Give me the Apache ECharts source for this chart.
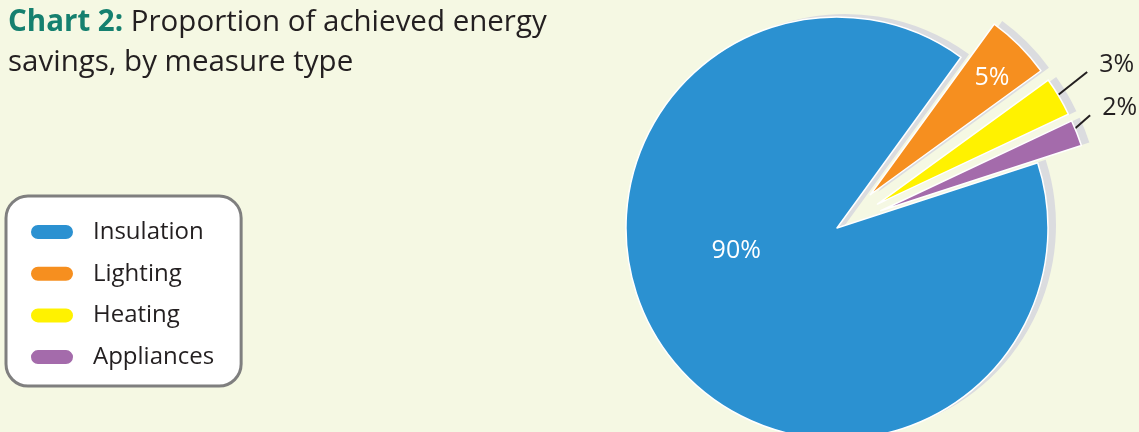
<!DOCTYPE html>
<html><head><meta charset="utf-8">
<script src="https://cdn.jsdelivr.net/npm/echarts@6/dist/echarts.min.js"></script>
<style>html,body{margin:0;padding:0;background:#f5f8e3;}#c{width:1139px;height:432px;}</style>
</head><body><div id="c"></div>
<script>
// ---- data ----
const categories = ['Insulation', 'Lighting', 'Heating', 'Appliances'];
const values = [90, 5, 3, 2];
const titleBold = 'Chart 2:';
const titleLine1 = 'Proportion of achieved energy';
const titleLine2 = 'savings, by measure type';

// ---- styling ----
const colors = ['#2b91d1', '#f68f1f', '#fff200', '#a46bab'];
const shadowColor = '#dbdcdf';
const FONT = 'Open Sans';
const exploded = [false, true, true, true];
const insideLabel = [true, true, false, false];
const lineLen = [0, 0, 28, 25];
const labelShift = [[-13, -41], [45, -40], [11, -18], [-3, -16]];

const chart = echarts.init(document.getElementById('c'), null, { renderer: 'canvas' });

const mainData = categories.map((name, i) => {
  const item = {
    name: name,
    value: values[i],
    selected: exploded[i],
    itemStyle: { color: colors[i] }
  };
  if (insideLabel[i]) {
    item.label = { position: 'inside', color: '#ffffff' };
    item.labelLine = { show: false };
  } else {
    item.label = { position: 'outside', color: '#231f20', distanceToLabelLine: 5 };
    item.labelLine = { show: true, showAbove: true, length: lineLen[i], length2: 0 };
  }
  return item;
});
const shadowData = categories.map((name, i) => ({
  name: name, value: values[i], selected: exploded[i]
}));

const pieCommon = {
  type: 'pie',
  radius: 211,
  startAngle: 18,
  clockwise: true,
  selectedMode: 'multiple',
  selectedOffset: 47,
  avoidLabelOverlap: false,
  animation: false
};

chart.setOption({
  backgroundColor: '#f5f8e3',
  animation: false,
  title: {
    left: 8, top: 3, padding: 0,
    text: '{b|' + titleBold + '} ' + titleLine1 + '\n' + titleLine2,
    textStyle: {
      fontFamily: FONT, fontSize: 29.5, fontWeight: 'normal', color: '#231f20', lineHeight: 40,
      rich: {
        b: { fontFamily: FONT, fontSize: 29.5, fontWeight: 'bold', color: '#15806f', lineHeight: 40 }
      }
    }
  },
  legend: {
    orient: 'vertical',
    left: 6, top: 196,
    data: categories,
    selectedMode: false,
    backgroundColor: '#ffffff',
    borderColor: '#7f7f7f',
    borderWidth: 3,
    borderRadius: 22,
    padding: [24, 27, 17, 23],
    itemWidth: 44,
    itemHeight: 16,
    itemGap: 17.7,
    icon: 'path://M8 0H36A8 8 0 0 1 36 16H8A8 8 0 0 1 8 0Z',
    textStyle: { fontFamily: FONT, fontSize: 24, color: '#231f20', padding: [0, 0, 0, 14] }
  },
  series: [
    Object.assign({}, pieCommon, {
      name: 'main',
      z: 3,
      center: [837, 228],
      data: mainData,
      itemStyle: { borderColor: '#ffffff', borderWidth: 1.5 },
      select: { itemStyle: { borderColor: '#ffffff', borderWidth: 1.5 } },
      emphasis: { scale: false },
      label: { fontFamily: FONT, fontSize: 25, formatter: '{c}%' },
      labelLine: { showAbove: true, lineStyle: { color: '#231f20', width: 2 } },
      labelLayout: function (p) {
        const s = labelShift[p.dataIndex];
        const out = { dx: s[0], dy: s[1] };
        const pts = p.labelLinePoints;
        if (!insideLabel[p.dataIndex] && pts && pts.length >= 2) {
          const a = pts[0], b = pts[1];
          const len = Math.hypot(b[0] - a[0], b[1] - a[1]) || 1;
          const ux = (b[0] - a[0]) / len, uy = (b[1] - a[1]) / len;
          const start = [a[0] - ux * 14, a[1] - uy * 14];
          const r = p.labelRect;
          const end = [r.x + s[0] - 12, r.y + s[1] + r.height * 0.8];
          out.labelLinePoints = [start, end, end];
        }
        return out;
      }
    }),
    Object.assign({}, pieCommon, {
      name: 'shadow',
      z: 1,
      silent: true,
      center: [845, 225],
      data: shadowData,
      itemStyle: { color: shadowColor, borderWidth: 0 },
      select: { itemStyle: { color: shadowColor, borderWidth: 0 } },
      label: { show: false },
      labelLine: { show: false }
    })
  ]
});
</script>
</body></html>
